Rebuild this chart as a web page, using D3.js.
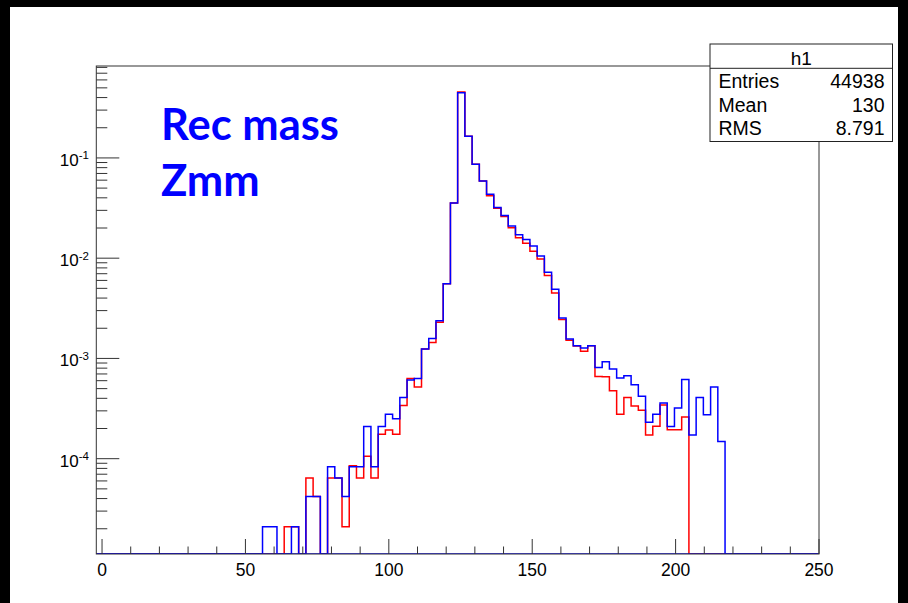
<!DOCTYPE html>
<html>
<head>
<meta charset="utf-8">
<script src="https://cdn.jsdelivr.net/npm/d3@7"></script>
<style>
  html, body { margin: 0; padding: 0; background: #000; }
  svg { display: block; }
</style>
</head>
<body>
<svg id="chart" width="908" height="603"></svg>
<script>
// histogram binning (100 bins)
const binLow = -2;
const binHigh = 250;
const nBins = 100;

// blue = h1, red = second sample, normalised contents per bin
const blueVals = [
  0, 0, 0, 0, 0, 0, 0, 0, 0, 0,
  0, 0, 0, 0, 0, 0, 0, 0, 0, 0,
  0, 0, 0, 2.1e-5, 2.1e-5, 0, 0, 2.1e-5, 0, 4.2e-5,
  4.2e-5, 0, 8.3e-5, 6.4e-5, 4.2e-5, 8.3e-5, 8.3e-5, 2.1e-4, 8.3e-5, 2.1e-4,
  2.78e-4, 2.5e-4, 4.07e-4, 6.1e-4, 6.3e-4, 1.24e-3, 1.585e-3, 2.38e-3, 5.55e-3, 3.55e-2,
  0.447, 0.165, 0.0865, 0.0589, 0.0434, 0.0321, 0.0267, 0.0209, 0.0171, 0.0154,
  0.0132, 0.0105, 7.24e-3, 4.9e-3, 2.53e-3, 1.56e-3, 1.34e-3, 1.27e-3, 1.34e-3, 8.1e-4,
  9.27e-4, 7.83e-4, 6.37e-4, 6.7e-4, 5.46e-4, 4.2e-4, 2.31e-4, 2.78e-4, 3.6e-4, 2.1e-4,
  3.2e-4, 6.17e-4, 1.72e-4, 4.07e-4, 2.75e-4, 5.2e-4, 1.48e-4, 0, 0, 0,
  0, 0, 0, 0, 0, 0, 0, 0, 0, 0
];
const redVals = [
  0, 0, 0, 0, 0, 0, 0, 0, 0, 0,
  0, 0, 0, 0, 0, 0, 0, 0, 0, 0,
  0, 0, 0, 0, 0, 0, 2.1e-5, 2.1e-5, 0, 6.4e-5,
  4.2e-5, 0, 6.4e-5, 6.4e-5, 2.1e-5, 8.5e-5, 6.4e-5, 1.06e-4, 6.4e-5, 1.75e-4,
  1.93e-4, 1.75e-4, 3.4e-4, 6.3e-4, 5.2e-4, 1.24e-3, 1.445e-3, 2.29e-3, 5.55e-3, 3.55e-2,
  0.455, 0.165, 0.0865, 0.0589, 0.042, 0.0314, 0.0261, 0.0201, 0.016, 0.0141,
  0.0117, 0.0098, 6.7e-3, 4.5e-3, 2.45e-3, 1.52e-3, 1.33e-3, 1.18e-3, 1.34e-3, 6.6e-4,
  6.56e-4, 4.75e-4, 2.78e-4, 4.07e-4, 3.35e-4, 3.04e-4, 1.72e-4, 2.11e-4, 3.44e-4, 1.94e-4,
  1.94e-4, 2.61e-4, 0, 0, 0, 0, 0, 0, 0, 0,
  0, 0, 0, 0, 0, 0, 0, 0, 0, 0
];

// axes
const yMin = 1.12e-5;
const yMax = 0.826;
const xTickLabels = [0, 50, 100, 150, 200, 250];
const yTickExps = [-1, -2, -3, -4];

// stats box
const statsTitle = 'h1';
const statsNames = ['Entries', 'Mean', 'RMS'];
const statsValues = ['44938', '130', '8.791'];

const noteLines = ['Rec mass', 'Zmm'];

const svg = d3.select('#chart');
const frame = {left: 96.3, right: 819, top: 66, bottom: 554};
const axisFont = '"Liberation Sans", Arial, Helvetica, sans-serif';

/*白色画布*/
svg.append('rect')
  .attr('x', 10).attr('y', 7)
  .attr('width', 888).attr('height', 596)
  .attr('fill', '#fff');

const x = d3.scaleLinear().domain([binLow, binHigh]).range([frame.left, frame.right]);
const y = d3.scaleLog().domain([yMin, yMax]).range([frame.bottom, frame.top]);

svg.append('clipPath').attr('id', 'frameClip')
  .append('rect')
  .attr('x', frame.left).attr('y', frame.top)
  .attr('width', frame.right - frame.left).attr('height', frame.bottom - frame.top);

/*直方图*/
const binW = (binHigh - binLow) / nBins;
function histPoints(vals) {
  let pts = vals.map((v, i) => [binLow + i * binW, Math.max(v, yMin)]);
  pts.push([binHigh, Math.max(vals[vals.length - 1], yMin)]);
  return pts;
}
const step = d3.line()
  .x(d => x(d[0]))
  .y(d => y(d[1]))
  .curve(d3.curveStepAfter);

const histG = svg.append('g').attr('clip-path', 'url(#frameClip)');
[[redVals, '#ff0000'], [blueVals, '#0000ff']].forEach(([vals, col]) => {
  histG.append('path')
    .attr('d', step(histPoints(vals)))
    .attr('fill', 'none')
    .attr('stroke', col)
    .attr('stroke-width', 1.5);
});

/*边框*/
svg.append('rect')
  .attr('x', frame.left).attr('y', frame.top)
  .attr('width', frame.right - frame.left).attr('height', frame.bottom - frame.top)
  .attr('fill', 'none')
  .attr('stroke', '#333')
  .attr('stroke-width', 1);
// bottom edge is covered by the blue histogram at zero
histG.append('line')
  .attr('x1', frame.left).attr('x2', frame.right)
  .attr('y1', frame.bottom).attr('y2', frame.bottom)
  .attr('stroke', '#0000ff').attr('stroke-width', 1.5);

/*x轴*/
const xMinor = d3.range(0, 251, 10);
svg.append('g').selectAll('line')
  .data(xMinor)
  .enter().append('line')
  .attr('x1', d => x(d)).attr('x2', d => x(d))
  .attr('y1', frame.bottom)
  .attr('y2', d => frame.bottom - (d % 50 === 0 ? 15 : 7.5))
  .attr('stroke', '#333').attr('stroke-width', 1);

svg.append('g').selectAll('text')
  .data(xTickLabels)
  .enter().append('text')
  .attr('x', d => x(d))
  .attr('y', 576)
  .attr('text-anchor', 'middle')
  .style('font-family', axisFont)
  .style('font-size', '17.5px')
  .attr('fill', '#000')
  .text(d => d);

/*y轴 (log)*/
let yTicks = [];
for (let e = -5; e <= 0; e++) {
  for (let m = 1; m <= 9; m++) {
    let v = m * Math.pow(10, e);
    if (v >= yMin && v <= yMax) yTicks.push({v: v, major: m === 1});
  }
}
svg.append('g').selectAll('line')
  .data(yTicks)
  .enter().append('line')
  .attr('x1', frame.left)
  .attr('x2', d => frame.left + (d.major ? 23 : 11))
  .attr('y1', d => y(d.v)).attr('y2', d => y(d.v))
  .attr('stroke', '#333').attr('stroke-width', 1);

const yLab = svg.append('g').selectAll('text')
  .data(yTickExps)
  .enter().append('text')
  .attr('x', 89)
  .attr('y', d => y(Math.pow(10, d)) + 8)
  .attr('text-anchor', 'end')
  .style('font-family', axisFont)
  .style('font-size', '17px')
  .attr('fill', '#000');
yLab.append('tspan').text('10');
yLab.append('tspan')
  .attr('dy', -6.5)
  .style('font-size', '11.5px')
  .text(d => d === -1 ? '-1' : String(d));

/*说明文字*/
const note = svg.append('g');
note.selectAll('text')
  .data(noteLines)
  .enter().append('text')
  .attr('x', 161)
  .attr('y', (d, i) => 140 + i * 56)
  .style('font-family', 'Lato, "Open Sans", sans-serif')
  .style('font-weight', 'bold')
  .style('font-size', '42px')
  .attr('fill', '#0000ff')
  .text(d => d);
// fit the first line width to the reference
let firstNode = note.select('text').node();
let w = firstNode.getComputedTextLength();
if (w > 0) {
  note.selectAll('text').style('font-size', (42 * 178 / w) + 'px');
}

/*统计框*/
const box = {x: 710, y: 44, w: 182.5, h: 97.5, sep: 68.3};
const stats = svg.append('g');
stats.append('rect')
  .attr('x', box.x).attr('y', box.y)
  .attr('width', box.w).attr('height', box.h)
  .attr('fill', '#fff')
  .attr('stroke', '#222').attr('stroke-width', 1);
stats.append('line')
  .attr('x1', box.x).attr('x2', box.x + box.w)
  .attr('y1', box.sep).attr('y2', box.sep)
  .attr('stroke', '#222').attr('stroke-width', 1);
stats.append('text')
  .attr('x', box.x + box.w / 2).attr('y', 64.5)
  .attr('text-anchor', 'middle')
  .style('font-family', axisFont).style('font-size', '19px')
  .text(statsTitle);
statsNames.forEach((n, i) => {
  let by = 88.3 + i * 23.4;
  stats.append('text')
    .attr('x', 718.5).attr('y', by)
    .style('font-family', axisFont).style('font-size', '19.5px')
    .text(n);
  stats.append('text')
    .attr('x', 884.5).attr('y', by)
    .attr('text-anchor', 'end')
    .style('font-family', axisFont).style('font-size', '19.5px')
    .text(statsValues[i]);
});
</script>
</body>
</html>
